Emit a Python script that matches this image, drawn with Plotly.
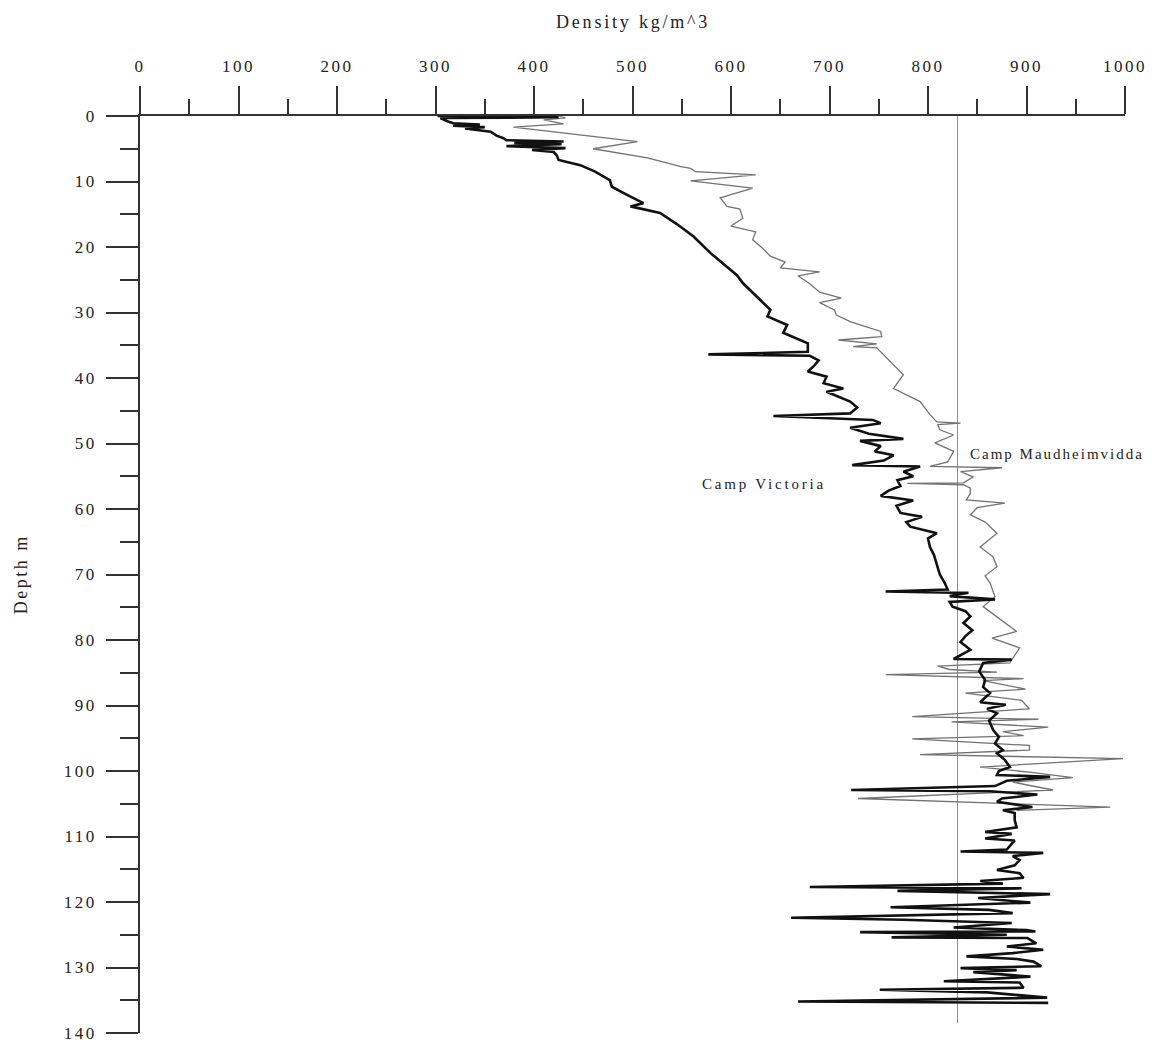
import plotly.graph_objects as go

# Firn density profiles (kg/m^3) against depth (m)
victoria_depth = [0.0, 0.2, 0.3, 0.8, 1.1, 1.3, 1.5, 1.7, 1.9, 2.4, 3.0, 3.4, 3.7, 3.9, 4.1, 4.3, 4.6, 4.9, 5.2, 5.5,
                  6.0, 6.7, 7.5, 8.5, 9.8, 10.8, 12.0, 13.3, 13.8, 14.8, 16.5, 18.4, 20.9, 22.5, 24.3, 25.5, 27.0,
                  28.1, 29.6, 30.6, 31.9, 33.1, 34.2, 34.7, 36.0, 36.4, 36.6, 37.3, 38.2, 39.0, 39.8, 40.8, 41.6,
                  42.1, 43.6, 44.5, 45.4, 45.8, 46.4, 46.9, 47.6, 48.5, 49.3, 49.6, 50.4, 51.2, 51.8, 52.6, 53.3,
                  53.5, 54.3, 55.0, 55.6, 56.5, 57.2, 58.0, 58.7, 59.5, 60.6, 61.2, 62.0, 62.7, 63.7, 64.5, 65.8,
                  67.0, 68.5, 70.0, 71.3, 72.3, 72.6, 72.8, 73.3, 73.8, 74.2, 74.9, 75.6, 76.4, 77.4, 78.5, 79.4,
                  80.3, 81.5, 82.9, 83.0, 83.5, 84.8, 86.1, 87.2, 88.1, 89.5, 89.9, 90.5, 91.2, 92.3, 93.7, 94.8,
                  95.8, 96.8, 97.3, 98.3, 99.4, 100.0, 100.6, 100.9, 101.5, 102.3, 102.9, 103.1, 103.6, 104.2, 104.7,
                  105.5, 106.0, 106.4, 107.5, 108.6, 109.3, 109.6, 110.3, 110.6, 112.0, 112.3, 112.5, 113.0, 113.6,
                  114.4, 115.1, 115.6, 116.3, 116.8, 117.2, 117.7, 117.9, 118.3, 118.6, 118.8, 119.4, 120.1, 120.8,
                  121.2, 121.7, 122.4, 122.7, 123.2, 123.9, 124.3, 124.5, 124.6, 125.0, 125.4, 125.5, 126.3, 126.8,
                  127.3, 127.8, 128.3, 128.7, 129.1, 129.8, 130.1, 130.4, 130.7, 131.4, 132.1, 132.3, 133.1, 133.4,
                  133.8, 134.6, 135.2, 135.4]
victoria_density = [302, 425, 305, 312, 318, 345, 318, 350, 330, 356, 362, 369, 372, 430, 380, 428, 372, 432, 398, 420,
                    423, 425, 447, 462, 477, 479, 494, 511, 498, 528, 545, 562, 579, 592, 606, 612, 622,
                    630, 640, 637, 657, 653, 670, 678, 678, 577, 680, 689, 684, 678, 697, 694, 714,
                    697, 721, 728, 721, 643, 744, 752, 721, 740, 775, 731, 752, 746, 765, 755, 723,
                    792, 775, 785, 769, 772, 760, 752, 785, 768, 772, 794, 778, 782, 809, 800, 802,
                    806, 809, 812, 817, 820, 757, 841, 822, 868, 822, 825, 838, 843, 836, 845, 838,
                    833, 843, 826, 885, 856, 852, 858, 856, 863, 853, 879, 860, 870, 862, 866, 872,
                    868, 876, 870, 878, 883, 872, 870, 924, 880, 868, 722, 863, 911, 875, 870,
                    906, 876, 888, 888, 890, 858, 885, 858, 888, 880, 833, 917, 886, 893,
                    888, 870, 893, 897, 853, 876, 680, 895, 769, 880, 924, 851, 904, 762,
                    862, 886, 661, 775, 885, 826, 900, 909, 731, 880, 763, 901, 910, 880,
                    917, 886, 839, 890, 907, 915, 833, 890, 846, 904, 816, 893, 897, 751,
                    860, 921, 668, 922]

maud_depth = [0.0, 0.3, 0.6, 1.2, 1.7, 3.9, 5.0, 6.4, 7.0, 7.7, 8.0, 8.5, 9.0, 9.9, 11.0, 12.5, 13.8, 14.2, 15.6,
              16.8, 17.7, 18.9, 20.2, 21.4, 22.3, 23.2, 23.8, 24.4, 25.6, 26.9, 27.8, 28.5, 29.6, 30.4, 31.4,
              32.9, 33.7, 34.2, 34.8, 35.2, 35.4, 37.5, 39.5, 41.6, 43.6, 45.6, 46.7, 46.9, 47.1, 47.9, 48.7,
              49.9, 51.2, 52.8, 53.5, 53.7, 54.3, 55.1, 56.0, 56.1, 56.3, 56.8, 57.6, 58.6, 59.1, 59.8, 60.9,
              62.0, 63.7, 65.8, 67.3, 68.8, 70.2, 71.3, 72.4, 73.4, 74.9, 76.7, 78.7, 79.7, 81.2, 83.5, 84.0,
              84.5, 84.9, 85.3, 85.9, 86.2, 87.5, 88.1, 89.2, 90.5, 91.7, 92.1, 92.5, 93.3, 94.0, 94.6, 95.1,
              96.1, 96.8, 97.5, 98.1, 99.4, 100.2, 101.0, 101.7, 102.9, 104.2, 105.5, 106.0]
maud_density = [425, 432, 410, 430, 379, 505, 460, 515, 531, 548, 559, 564, 625, 559, 622, 589, 596, 609, 612,
                600, 625, 622, 632, 640, 655, 650, 690, 668, 680, 690, 712, 690, 705, 707, 721,
                752, 753, 709, 748, 724, 748, 762, 775, 765, 792, 802, 809, 833, 810, 812, 826,
                807, 826, 820, 802, 875, 833, 846, 836, 779, 836, 843, 843, 839, 878, 850, 843,
                858, 870, 853, 866, 870, 858, 863, 866, 868, 856, 872, 890, 865, 893, 883, 810,
                822, 870, 757, 897, 856, 899, 838, 895, 903, 784, 912, 824, 922, 876, 897, 784,
                903, 903, 792, 998, 853, 905, 947, 886, 927, 729, 985, 890]

# Reference density marker line
ref_density = [830, 830]
ref_depth = [0, 138.5]

x_ticks = [0, 100, 200, 300, 400, 500, 600, 700, 800, 900, 1000]
y_ticks = [0, 10, 20, 30, 40, 50, 60, 70, 80, 90, 100, 110, 120, 130, 140]

SERIF = "Liberation Serif"
AXIS_COLOR = "#333333"
TEXT_COLOR = "#222222"


def spaced(text, px):
    """Wrap a label so it is drawn with extra letter spacing."""
    return f'<span style="letter-spacing:{px}px">{text}</span>'


fig = go.Figure()
fig.add_trace(go.Scatter(x=ref_density, y=ref_depth, mode="lines",
                         line=dict(color="#8c8c8c", width=1), showlegend=False, hoverinfo="skip"))
fig.add_trace(go.Scatter(x=maud_density, y=maud_depth, mode="lines", name="Camp Maudheimvidda",
                         line=dict(color="#727272", width=1.3), showlegend=False))
fig.add_trace(go.Scatter(x=victoria_density, y=victoria_depth, mode="lines", name="Camp Victoria",
                         line=dict(color="#111111", width=2.6), showlegend=False))

fig.update_xaxes(
    side="top", range=[0, 1000], tickmode="array", tickvals=x_ticks,
    ticktext=[spaced(v, 2.5) for v in x_ticks],
    ticks="outside", ticklen=28, tickwidth=1.7, tickcolor=AXIS_COLOR,
    minor=dict(ticks="outside", dtick=50, tick0=0, ticklen=15, tickwidth=1.7, tickcolor=AXIS_COLOR),
    showline=True, linecolor=AXIS_COLOR, linewidth=1.7,
    showgrid=False, zeroline=False,
    tickfont=dict(family=SERIF, size=17, color=TEXT_COLOR),
    ticklabelstandoff=7,
)
fig.update_yaxes(
    range=[140, 0], tickmode="array", tickvals=y_ticks,
    ticktext=[spaced(v, 2.5) for v in y_ticks],
    ticks="outside", ticklen=32, tickwidth=1.7, tickcolor=AXIS_COLOR,
    minor=dict(ticks="outside", dtick=5, tick0=0, ticklen=18, tickwidth=1.7, tickcolor=AXIS_COLOR),
    showline=True, linecolor=AXIS_COLOR, linewidth=1.7,
    showgrid=False, zeroline=False,
    tickfont=dict(family=SERIF, size=17, color=TEXT_COLOR),
    ticklabelstandoff=6,
)

fig.add_annotation(text=spaced("Density kg/m^3", 2.8), xref="paper", yref="paper", x=0.5, y=1.102,
                   showarrow=False, xanchor="center", yanchor="middle",
                   font=dict(family=SERIF, size=18, color=TEXT_COLOR))
fig.add_annotation(text=spaced("Depth m", 2.5), xref="paper", yref="paper", x=-0.121, y=0.5, textangle=-90,
                   showarrow=False, xanchor="center", yanchor="middle",
                   font=dict(family=SERIF, size=18, color=TEXT_COLOR))
fig.add_annotation(text=spaced("Camp Victoria", 2.8), x=633, y=56.2, showarrow=False,
                   xanchor="center", yanchor="middle",
                   font=dict(family=SERIF, size=15, color=TEXT_COLOR))
fig.add_annotation(text=spaced("Camp Maudheimvidda", 2), x=931, y=51.6, showarrow=False,
                   xanchor="center", yanchor="middle",
                   font=dict(family=SERIF, size=15, color=TEXT_COLOR))

fig.update_layout(
    width=1173, height=1062, autosize=False,
    margin=dict(l=140, r=48, t=116, b=29),
    paper_bgcolor="white", plot_bgcolor="white",
    showlegend=False,
)

fig.write_html("out.html")
